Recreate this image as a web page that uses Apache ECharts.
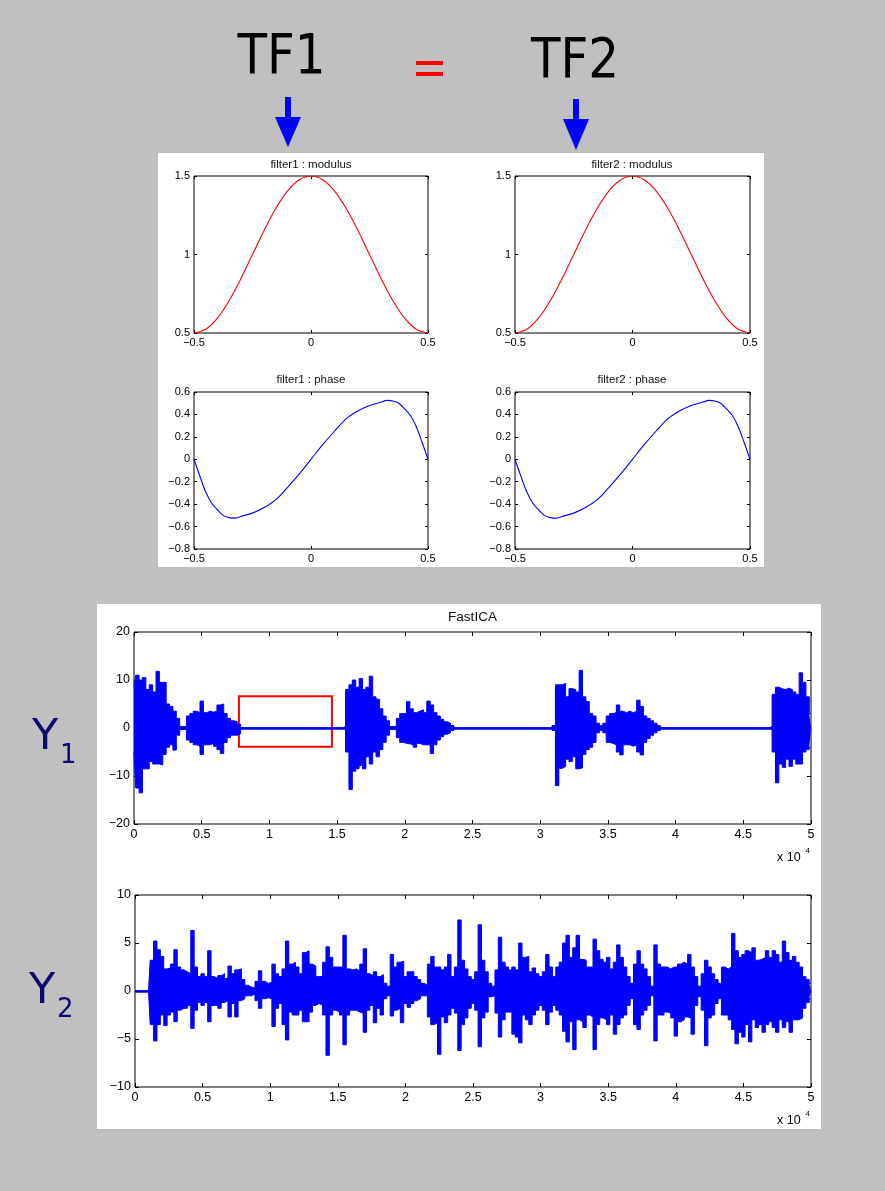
<!DOCTYPE html>
<html>
<head>
<meta charset="utf-8">
<script src="https://cdn.jsdelivr.net/npm/echarts@6/dist/echarts.min.js"></script>
<style>
html,body{margin:0;padding:0;background:#c0c0c0;}
#main{width:885px;height:1191px;}
</style>
</head>
<body>
<div id="main"></div>
<script>
// ---------- DATA ----------
const modFreq = [-0.5,-0.45,-0.4,-0.35,-0.3,-0.25,-0.2,-0.15,-0.1,-0.05,0,0.05,0.1,0.15,0.2,0.25,0.3,0.35,0.4,0.45,0.5];
const modVals = [0.5,0.524,0.595,0.706,0.845,1.0,1.155,1.294,1.405,1.476,1.5,1.476,1.405,1.294,1.155,1.0,0.845,0.706,0.595,0.524,0.5];

const phaseFreq = [-0.5,-0.475,-0.45,-0.425,-0.4,-0.375,-0.35,-0.325,-0.3,-0.25,-0.2,-0.15,-0.1,-0.05,0,0.05,0.1,0.15,0.2,0.25,0.3,0.325,0.35,0.375,0.4,0.425,0.45,0.475,0.5];
const phaseVals = [0,-0.15,-0.29,-0.39,-0.45,-0.50,-0.52,-0.525,-0.51,-0.48,-0.43,-0.36,-0.25,-0.13,0,0.13,0.25,0.36,0.43,0.48,0.51,0.525,0.52,0.50,0.45,0.39,0.29,0.15,0];

const SAMPLE_STEP = 250; // samples between envelope readings

const y1Upper = [
 8.5,11,10,10.5,8,9,7.5,11.8,9.5,9.5,
 5,4.5,3.5,2,0.3,0.3,2.5,3,3.5,3.2,
 5.6,3.2,3.5,3.3,3.5,4.8,5,3,2,1.5,
 1.3,0.8,
 0,0,0,0,0,0,0,0,0,0, 0,0,0,0,0,0,0,0,0,0, 0,0,0,0,0,0,0,0,0,0,
 0.3,8,9,10,8.5,10.3,8,8.5,10.8,6.5,
 6,4,2.5,1.5,0.3,0.3,2,3,3,5.5,
 4,3.2,3.5,3.8,3.2,5.6,4.8,3.2,2.5,1.8,
 1.3,1,0.5,
 0,0,0,0,0,0,0,0,0,0, 0,0,0,0,0,0,0,0,0,0, 0,0,0,0,0,0,0,0,0,
 0.5,9,9,9.3,6.5,8.2,8,7.5,12,6.5,
 5.5,3,2.5,1,0.5,1,2.5,3,3.2,4.8,
 3.5,3.2,3.5,3.2,3.5,5.8,4.5,2.5,2,1.5,
 1,0.5,
 0,0,0,0,0,0,0,0,0,0, 0,0,0,0,0,0,0,0,0,0, 0,0,0,0,0,0,0,0,0,0, 0,0,
 0.3,7,8.5,8.2,8,8.3,8,7.5,7,11.5,
 9.5,6.5,3
];
const y1Lower = [
 -5,-12.5,-13.5,-8.5,-8.5,-7,-7.5,-7.5,-7.7,-5.5,
 -4,-3.5,-4.6,-1.5,-0.3,-0.3,-2.5,-3,-3.5,-3.8,
 -5.5,-3.5,-3.5,-3.2,-3.8,-4.5,-5.3,-3,-2,-1.5,
 -1.5,-1.2,
 0,0,0,0,0,0,0,0,0,0, 0,0,0,0,0,0,0,0,0,0, 0,0,0,0,0,0,0,0,0,0,
 -0.3,-5,-12.8,-9,-8.5,-7.8,-8.5,-6,-7.5,-5,
 -6,-4.5,-3,-1.5,-0.3,-0.3,-2,-3,-3.2,-3.3,
 -3.5,-4,-3.2,-3.5,-3.5,-3.5,-5.3,-3.5,-2.5,-1.8,
 -1.3,-1,-0.5,
 0,0,0,0,0,0,0,0,0,0, 0,0,0,0,0,0,0,0,0,0, 0,0,0,0,0,0,0,0,0,
 -0.5,-12,-8.4,-8,-6.5,-7,-6,-8.5,-8.3,-5.5,
 -4.5,-4,-3,-1,-0.5,-1,-3,-3.2,-3.5,-5,
 -5.6,-3.5,-3.5,-3.8,-3.5,-5,-5.6,-3,-2.2,-1.5,
 -1,-0.5,
 0,0,0,0,0,0,0,0,0,0, 0,0,0,0,0,0,0,0,0,0, 0,0,0,0,0,0,0,0,0,0, 0,0,
 -0.3,-5,-11.4,-7.5,-8.2,-6.5,-8,-6.5,-7.5,-7.5,
 -5,-4.5,-4
];
const y2Upper = [
 0,0,0,0,0,3.2,5.2,4.3,3.6,2.3,
 2.4,2.8,4.3,2.5,2.2,2,1.8,6.3,2.5,1.5,
 1.8,1.5,4.2,1.5,1.3,1.6,1.8,1.3,2.6,1.8,
 2.2,2.3,1.2,0.6,0.4,0.3,1,2.1,1,0.8,
 0.9,2.8,1.8,1.5,2.3,5.2,2.8,3,2.5,1.8,
 4,4.2,2.8,2.6,1.5,1.5,3,4.6,3.5,2.5,
 2.5,2.5,5.8,2.3,2.2,2.3,2.1,2.8,4.4,1.8,
 1.6,2,1.5,1.7,0.8,0.5,3.8,2.5,3,3.1,
 1.5,2,2,1.5,1.2,0.8,0.6,2.8,3.6,2.5,
 2.5,2.2,2.5,3.8,1.5,2.5,7.4,3.2,2.3,1.5,
 1.2,2,6.9,3.2,2,0.8,0.5,2.2,5.6,3,
 2.5,2.2,2.5,2.2,5,3.5,3.6,2,2.4,1.8,
 1.5,2,3.8,2.5,1.5,2.5,3,5,5.8,3.5,
 4.5,5.8,3.3,3.2,2.5,2.5,5.4,4.2,3.3,3,
 3.5,2.3,3,4.8,3.5,2.5,1.5,0.8,2.8,4.2,
 2.8,2.3,1.5,0.5,4.8,2.8,2.5,2.5,2.3,2.5,
 2.5,2.8,3,2.8,3.8,2.5,1.5,0.5,1.8,3.2,
 2.5,1.8,1.2,0.8,2.5,2.3,2.5,6,4.2,3.5,
 3.8,4.2,4,4.5,3.2,3.3,3.5,4.2,3.5,4.2,
 3.8,3,5.2,4,3.2,3.6,3,2.5,1.5,1.2,
 0.8
];
const y2Lower = [
 0,0,0,0,0,-3.5,-5.2,-3.5,-2.5,-3.6,
 -2.5,-2.2,-3.2,-2,-1.8,-1.8,-1.5,-3.9,-2,-1.2,
 -1.5,-1.2,-3.2,-1.5,-1.5,-1.8,-1.2,-1,-2.7,-1.3,
 -2.7,-1,-0.8,-0.5,-0.5,-0.3,-1,-1.8,-0.8,-0.7,
 -0.8,-3.7,-1.8,-1.3,-3.5,-5.1,-2.2,-2.5,-2.5,-2,
 -3.2,-3.2,-2.2,-1.5,-1.3,-1.5,-2.5,-6.7,-2.5,-2,
 -2.2,-2.5,-5.6,-2.5,-2,-2,-2.2,-2.3,-4.3,-2,
 -1.5,-3.3,-1.8,-2.5,-0.8,-0.5,-2.6,-2,-1.8,-3.3,
 -1.3,-1.7,-1.3,-1,-0.8,-0.5,-0.5,-2.7,-3.5,-3.3,
 -6.6,-2.7,-3.3,-2.5,-1.8,-2.3,-6.2,-3.5,-2.8,-1.8,
 -1.3,-2,-5.8,-2.8,-2.2,-0.6,-0.5,-2.3,-4.8,-3,
 -2.2,-2.2,-4.5,-4.8,-5.4,-2.5,-3,-3.5,-2.5,-2,
 -1.5,-2,-3.5,-2.2,-1.5,-2,-2.5,-4.2,-5.3,-3.2,
 -6.1,-3,-3.2,-3.8,-2.5,-2.7,-6.1,-3.5,-2.8,-3,
 -3.5,-2.5,-4.5,-3.5,-2.8,-2.5,-1.5,-0.8,-3.5,-4,
 -2.5,-2,-1.5,-0.5,-5.2,-2.5,-2.5,-2.2,-2.3,-2.8,
 -4.7,-3.2,-3,-2.7,-2.8,-4.5,-1.5,-0.6,-2,-5.7,
 -2.8,-2.5,-1.3,-0.8,-2.5,-2.5,-3,-4,-5.5,-4.3,
 -4.8,-3.5,-5.3,-3,-3.8,-3.5,-4.3,-3.5,-3.2,-3.8,
 -4.3,-3,-3.8,-3.2,-4.3,-3,-3,-2.8,-1.8,-1.2,
 -0.8
];
// red highlight box on Y1: [xStart, xEnd, yBottom, yTop] in data units
const redBox = [7750, 14620, -3.9, 6.6];

// ---------- CHART ----------
const chart = echarts.init(document.getElementById('main'));
const FONT = '"Liberation Sans", Arial, Helvetica, sans-serif';
const BIGFONT = '"DejaVu Sans", Verdana, sans-serif';
const minus = s => String(s).replace('-', '\u2212');

const grids = [
  {left:194, top:176, width:234, height:157},
  {left:515, top:176, width:235, height:157},
  {left:194, top:392, width:234, height:157},
  {left:515, top:392, width:235, height:157},
  {left:134, top:632, width:677, height:192},
  {left:135, top:895, width:676, height:192}
];
const xCfg = [
  {min:-0.5,max:0.5,interval:0.5,fmt:v=>minus(v),fs:11,tick:3},
  {min:-0.5,max:0.5,interval:0.5,fmt:v=>minus(v),fs:11,tick:3},
  {min:-0.5,max:0.5,interval:0.5,fmt:v=>minus(v),fs:11,tick:3},
  {min:-0.5,max:0.5,interval:0.5,fmt:v=>minus(v),fs:11,tick:3},
  {min:0,max:50000,interval:5000,fmt:v=>String(v/10000),fs:12.5,tick:4},
  {min:0,max:50000,interval:5000,fmt:v=>String(v/10000),fs:12.5,tick:4}
];
const yCfg = [
  {min:0.5,max:1.5,interval:0.5,fmt:v=>minus(v),fs:11,tick:3},
  {min:0.5,max:1.5,interval:0.5,fmt:v=>minus(v),fs:11,tick:3},
  {min:-0.8,max:0.6,interval:0.2,fmt:v=>minus(parseFloat(v.toFixed(2))),fs:11,tick:3},
  {min:-0.8,max:0.6,interval:0.2,fmt:v=>minus(parseFloat(v.toFixed(2))),fs:11,tick:3},
  {min:-20,max:20,interval:10,fmt:v=>minus(v),fs:12.5,tick:4},
  {min:-10,max:10,interval:5,fmt:v=>minus(v),fs:12.5,tick:4}
];

const gridOpts = [], xAxes = [], yAxes = [];
const noLine = {show:false, onZero:false};
grids.forEach((g, i) => {
  gridOpts.push(Object.assign({show:true, backgroundColor:'#fff', borderColor:'#000', borderWidth:1}, g));
  const xc = xCfg[i], yc = yCfg[i];
  xAxes.push({type:'value', gridIndex:i, position:'bottom', min:xc.min, max:xc.max, interval:xc.interval,
    axisLine:noLine, splitLine:{show:false},
    axisTick:{show:true, inside:true, length:xc.tick, lineStyle:{color:'#000'}},
    axisLabel:{show:true, formatter:xc.fmt, color:'#000', fontSize:xc.fs, fontFamily:FONT, margin:4, showMinLabel:true, showMaxLabel:true}});
  xAxes.push({type:'value', gridIndex:i, position:'top', min:xc.min, max:xc.max, interval:xc.interval,
    axisLine:noLine, splitLine:{show:false}, axisLabel:{show:false},
    axisTick:{show:true, inside:true, length:xc.tick, lineStyle:{color:'#000'}}});
  yAxes.push({type:'value', gridIndex:i, position:'left', min:yc.min, max:yc.max, interval:yc.interval,
    axisLine:noLine, splitLine:{show:false},
    axisTick:{show:true, inside:true, length:yc.tick, lineStyle:{color:'#000'}},
    axisLabel:{show:true, formatter:yc.fmt, color:'#000', fontSize:yc.fs, fontFamily:FONT, margin:4, showMinLabel:true, showMaxLabel:true}});
  yAxes.push({type:'value', gridIndex:i, position:'right', min:yc.min, max:yc.max, interval:yc.interval,
    axisLine:noLine, splitLine:{show:false}, axisLabel:{show:false},
    axisTick:{show:true, inside:true, length:yc.tick, lineStyle:{color:'#000'}}});
});

const pairs = (xs, ys) => xs.map((x, k) => [x, ys[k]]);
const wave = ys => ys.map((y, k) => [k * SAMPLE_STEP, y]);

function curve(gi, xs, ys, color) {
  return {type:'line', xAxisIndex:gi*2, yAxisIndex:gi*2, data:pairs(xs, ys), smooth:0.35,
    showSymbol:false, symbol:'none', lineStyle:{color:color, width:1.1}, silent:true, animation:false, clip:true};
}
const zeroLine = {silent:true, symbol:['none','none'], label:{show:false},
  lineStyle:{color:'#0000ff', type:'solid', width:2.5}, data:[{yAxis:0}]};
function band(gi, ys, extra) {
  return Object.assign({type:'line', xAxisIndex:gi*2, yAxisIndex:gi*2, data:wave(ys), step:'middle',
    showSymbol:false, symbol:'none', lineStyle:{color:'#0000ff', width:1},
    areaStyle:{color:'#0000ff', opacity:1}, silent:true, animation:false, clip:true}, extra || {});
}

const series = [
  curve(0, modFreq, modVals, '#ff0000'),
  curve(1, modFreq, modVals, '#ff0000'),
  curve(2, phaseFreq, phaseVals, '#0000ff'),
  curve(3, phaseFreq, phaseVals, '#0000ff'),
  band(4, y1Upper, {markLine:zeroLine}),
  band(4, y1Lower, {markArea:{silent:true,
    itemStyle:{color:'rgba(0,0,0,0)', borderColor:'#ff0000', borderWidth:2},
    data:[[{xAxis:redBox[0], yAxis:redBox[3]}, {xAxis:redBox[1], yAxis:redBox[2]}]]}}),
  band(5, y2Upper, {markLine:zeroLine}),
  band(5, y2Lower)
];

const txt = (x, y, text, size, family, o) => ({type:'text', x:x, y:y, silent:true,
  style:Object.assign({text:text, fill:'#000', fontSize:size, fontFamily:family, textAlign:'center', textVerticalAlign:'middle'}, o || {})});

const graphic = [
  {type:'rect', z:-10, silent:true, shape:{x:158, y:153, width:606, height:414}, style:{fill:'#fff'}},
  {type:'rect', z:-10, silent:true, shape:{x:97, y:604, width:724, height:525}, style:{fill:'#fff'}},
  // big titles
  Object.assign(txt(281.5, 58.5, 'TF1', 55, BIGFONT), {scaleX:0.88}),
  Object.assign(txt(575, 63, 'TF2', 55, BIGFONT), {scaleX:0.88}),
  {type:'rect', silent:true, shape:{x:416, y:61, width:27, height:4}, style:{fill:'#ff0000'}},
  {type:'rect', silent:true, shape:{x:416, y:72, width:27, height:4}, style:{fill:'#ff0000'}},
  // arrows
  {type:'rect', silent:true, shape:{x:285, y:97, width:6, height:21}, style:{fill:'#0000ff'}},
  {type:'polygon', silent:true, shape:{points:[[275,117],[301,117],[288,147]]}, style:{fill:'#0000ff'}},
  {type:'rect', silent:true, shape:{x:573, y:99, width:6, height:21}, style:{fill:'#0000ff'}},
  {type:'polygon', silent:true, shape:{points:[[563,119],[589,119],[576,150]]}, style:{fill:'#0000ff'}},
  // subplot titles
  txt(311, 164.5, 'filter1 : modulus', 11.5, FONT, {fill:'#111'}),
  txt(632, 164.5, 'filter2 : modulus', 11.5, FONT, {fill:'#111'}),
  txt(311, 379.5, 'filter1 : phase', 11.5, FONT, {fill:'#111'}),
  txt(632, 379.5, 'filter2 : phase', 11.5, FONT, {fill:'#111'}),
  txt(472.5, 617.5, 'FastICA', 13.5, FONT, {fill:'#111'}),
  // x 10^4 exponent labels
  txt(777, 857.5, 'x 10', 12.5, FONT, {textAlign:'left'}),
  txt(805.5, 851, '4', 8, FONT, {textAlign:'left'}),
  txt(777, 1120.5, 'x 10', 12.5, FONT, {textAlign:'left'}),
  txt(805.5, 1114, '4', 8, FONT, {textAlign:'left'}),
  // Y labels
  txt(32, 738, 'Y', 43, BIGFONT, {fill:'#0a0a6e', textAlign:'left'}),
  txt(60, 756, '1', 26, BIGFONT, {fill:'#0a0a6e', textAlign:'left'}),
  txt(29, 992, 'Y', 43, BIGFONT, {fill:'#0a0a6e', textAlign:'left'}),
  txt(57, 1010, '2', 26, BIGFONT, {fill:'#0a0a6e', textAlign:'left'})
];

chart.setOption({
  backgroundColor:'#c0c0c0',
  animation:false,
  grid:gridOpts,
  xAxis:xAxes,
  yAxis:yAxes,
  series:series,
  graphic:graphic
});
</script>
</body>
</html>
